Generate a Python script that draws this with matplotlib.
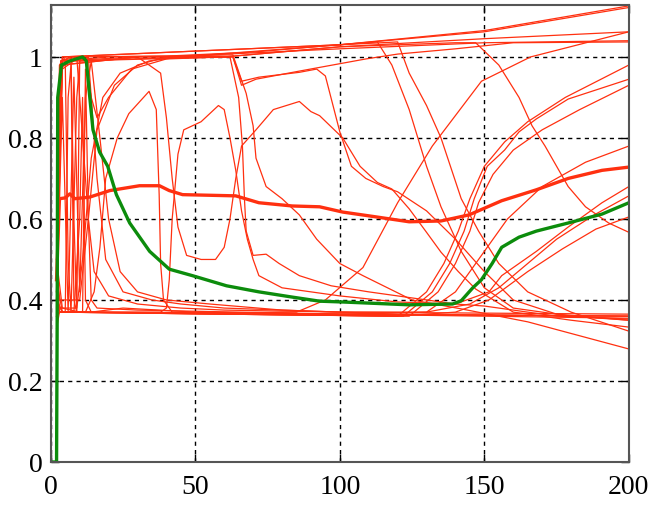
import matplotlib
matplotlib.use("Agg")
import matplotlib.pyplot as plt

# thin red runs, (x, y) points
run01 = [(2, .42), (3, .98), (5, 1.0), (40, 1.002), (70, 1.012), (100, 1.03), (150, 1.065), (200, 1.126)]
run02 = [(2, .45), (3, .37), (8, .37), (60, .368), (85, .37), (95, .40), (108, .48), (120, .64), (132, .78),
         (149, .94), (166, 1.0), (200, 1.062)]
run03 = [(2, .5), (3.5, .97), (6, .99), (50, 1.0), (63, 1.0), (66, .93), (71, .945), (86, .965), (109, .995),
         (120, 1.007), (140, 1.02), (160, 1.035), (200, 1.037)]
run04 = [(2, .4), (4, .97), (8, .99), (60, 1.0), (100, 1.025), (140, 1.035), (147, 1.035), (155, .98), (162, .9),
         (166.5, .83), (171, .78), (179, .68), (185, .63), (193, .59), (200, .567)]
run05 = [(2, .45), (4, 1.0), (100, 1.03), (113, 1.037), (118, .98), (124, .87), (130, .73), (135, .63), (142, .52),
         (150, .43), (160, .38), (180, .36), (200, .35)]
run06 = [(2, .5), (4, 1.0), (100, 1.03), (120, 1.037), (124, .96), (130, .88), (135, .80), (142, .65), (148, .57),
         (155, .49), (165, .42), (180, .37), (200, .323)]
run07 = [(2, .45), (3.5, .99), (20, 1.0), (63, 1.005), (67.6, .91), (70, .83), (71, .75), (74.5, .68), (80, .65),
         (86, .61), (92, .55), (100, .49), (108, .46), (125, .40), (142, .378), (165, .346), (200, .279)]
run08 = [(2, .4), (4, .98), (30, 1.0), (62, 1.0), (65, .90), (66.3, .78), (67, .65), (67.6, .57), (70, .51),
         (74.5, .513), (79, .49), (86, .46), (97, .435), (110, .42), (125, .405), (140, .39), (150, .385),
         (175, .36), (200, .353)]
run09 = [(2, .45), (4, .37), (38, .37), (40, .38), (41, .45), (42, .60), (44, .76), (46, .82), (52, .84), (58, .88),
         (60, .87), (62, .80), (64, .72), (66, .62), (68, .55), (70, .50), (72, .46), (80, .43), (100, .41),
         (120, .395), (140, .39), (151.6, .42), (156, .46), (168, .52), (179, .58), (190.7, .64), (200, .68)]
run10 = [(2, .42), (3, .37), (12, .37), (100, .365), (130, .37), (145, .39), (155, .43), (165, .49), (175, .55),
         (188, .61), (200, .657)]
run11 = [(2, .5), (4, .38), (10, .37), (120, .36), (140, .37), (151.6, .40), (165, .47), (177, .526),
         (188.6, .575), (200, .605)]
run12 = [(2, .4), (4, .37), (60, .365), (120, .36), (130, .42), (136, .49), (141, .57), (145, .65), (150, .73),
         (157, .79), (165, .84), (178, .90), (200, .98)]
run13 = [(2, .33), (3, .37), (60, .365), (122, .36), (132, .42), (138, .49), (143, .57), (146.5, .65), (151, .73),
         (157, .77), (162, .815), (168, .847), (179, .896), (200, .945)]
run14 = [(2, .36), (3, .37), (60, .365), (124, .36), (134, .42), (140, .49), (145, .57), (148, .64), (153, .71),
         (160, .77), (170, .82), (183, .87), (200, .93)]
run15 = [(2, .42), (3.5, .99), (9, 1.0), (11, .8), (13, .6), (15, .47), (20, .41), (30, .39), (45, .38), (60, .375),
         (100, .37), (130, .37), (140, .42), (148, .5), (158, .6), (170, .68), (185, .74), (200, .78)]
run16 = [(2, .45), (4, .99), (30, 1.0), (38, .96), (40, .85), (42, .70), (44, .58), (47, .51), (52, .50), (57, .50),
         (60, .53), (62, .6), (64, .70), (66, .78), (71, .82), (77, .87), (86, .89), (90, .865), (93, .855),
         (101, .80), (107, .73), (113, .69), (118, .674), (124, .625), (130, .567), (135, .518), (141, .47),
         (147, .427), (160, .37), (180, .35), (200, .333)]
run17 = [(2, .4), (4, .37), (8, .37), (10, .6), (11, .9), (12, .4), (14, .37), (25, .38), (50, .37), (100, .365),
         (200, .36)]
run18 = [(2, .45), (3, .38), (9, .38), (11, .5), (14, .75), (18, .9), (24, .96), (34, .99), (45, 1.0), (100, 1.03),
         (150, 1.062), (200, 1.122)]
run19 = [(2, .5), (3, .4), (10, .4), (13, .6), (16, .82), (22, .93), (30, .98), (40, 1.0), (100, 1.02),
         (150, 1.035), (200, 1.04)]
run20 = [(2, .45), (3.5, .99), (7, 1.0), (8, .6), (9, .37), (10, .99), (13, 1.0), (16, .7), (19, .5), (25, .42),
         (35, .40), (45, .39), (60, .38), (100, .37), (200, .365)]
run21 = [(2, .4), (3, .37), (12, .37), (15, .42), (17, .53), (19, .70), (23, .80), (27, .86), (34, .915),
         (36.5, .87), (37.5, .66), (38, .49), (39, .40), (42, .37), (100, .365), (200, .355)]
run22 = [(2, .38), (4, .9), (6, .37), (8, .95), (10, .42), (12, .9), (14, .99), (17, .8), (20, .6), (24, .47),
         (30, .42), (40, .40), (55, .39), (80, .375), (120, .365), (200, .36)]
run23 = [(2, .42), (3.5, .98), (30, 1.0), (63, 1.0), (66, .94), (72, .95), (86, .962), (92, .97), (95, .953),
         (100, .815), (104, .73), (109, .70), (115, .68), (120, .667), (130, .62), (140, .55), (150, .47),
         (160, .40), (175, .365), (200, .35)]
run24 = [(2, .36), (3, .37), (5, .37), (6, .9), (7, .98), (8, .4), (9, .37), (11, .37), (12, .97), (13, .6),
         (14, .4), (16, .38), (30, .375), (100, .365), (200, .36)]
run25 = [(2, .4), (3.5, .99), (5, .99), (6, .5), (7, .37), (9, .9), (10, .99), (12, .99), (14, .9), (16, .85),
         (20, .9), (28, .97), (40, .995), (60, 1.0), (100, 1.025), (150, 1.045), (200, 1.062)]

# thick lines
mean_x = [2, 3, 5, 6.6, 8.3, 13.5, 20.4, 30.7, 37.6, 41, 45.6, 64, 72, 83.6, 93, 101, 112.6, 124, 135, 144.7,
          156, 168, 179, 190.7, 200]
mean_y = [.45, .65, .652, .662, .65, .654, .67, .682, .682, .67, .66, .657, .64, .632, .63, .617, .605, .593,
          .595, .61, .645, .672, .70, .72, .728]
green_x = [0.5, 2, 2.2, 2.4, 3.7, 6.6, 11, 12.3, 13.5, 14.6, 16.9, 19.7, 22.7, 27.3, 34.2, 41, 49, 60.8, 72,
           83.6, 93, 101, 124, 139, 142, 146, 149, 152.7, 156, 162, 168, 179, 190.7, 200]
green_y = [0, 0, .33, .90, .98, .99, 1.0, .99, .90, .82, .765, .73, .66, .59, .52, .476, .46, .435, .42, .407,
           .397, .395, .388, .39, .398, .43, .45, .49, .53, .555, .57, .59, .612, .64]

x_ticks = [0, 50, 100, 150, 200]
y_ticks = [0, 0.2, 0.4, 0.6, 0.8, 1]
y_tick_labels = ["0", "0.2", "0.4", "0.6", "0.8", "1"]

thin_runs = [run01, run02, run03, run04, run05, run06, run07, run08, run09, run10, run11, run12, run13,
             run14, run15, run16, run17, run18, run19, run20, run21, run22, run23, run24, run25]

plt.rcParams['font.family'] = ['Liberation Serif', 'DejaVu Serif']

fig = plt.figure(figsize=(6.51, 5.06), dpi=100)
ax = fig.add_axes([0.078, 0.085, 0.888, 0.903])

red = '#ff3010'
for run in thin_runs:
    xs = [p[0] for p in run]
    ys = [p[1] for p in run]
    ax.plot(xs, ys, color=red, lw=0.9)

ax.plot(mean_x, mean_y, color=red, lw=2.4)
ax.plot(green_x, green_y, color='#0c8c0c', lw=2.4)

ax.set_xlim(0, 200)
ax.set_ylim(0, 1.128)
ax.set_xticks(x_ticks)
ax.set_yticks(y_ticks)
ax.set_yticklabels(y_tick_labels)
ax.grid(True, color='black', linestyle=(0, (3, 3)), lw=1)
ax.tick_params(direction='in', length=6, width=1, top=True, right=True, labelsize=20, pad=6)
ax.tick_params(axis='x', pad=9)
for s in ax.spines.values():
    s.set_color('#555555')
    s.set_linewidth(1.5)

fig.savefig('out.png', dpi=100)
